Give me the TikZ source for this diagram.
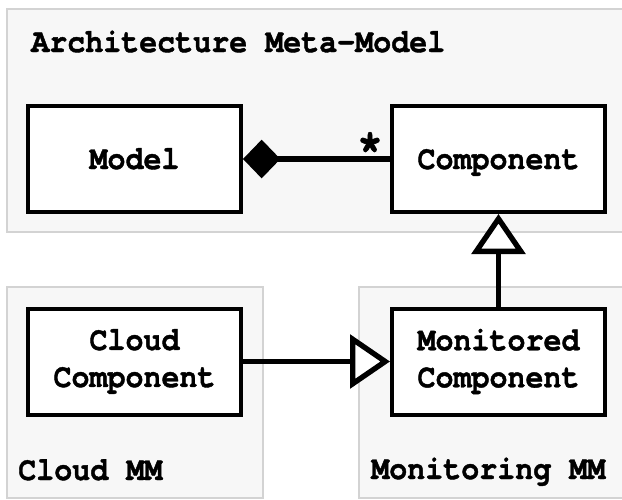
\documentclass[tikz,border=0pt]{standalone}
\usepackage{fontspec}
\setmonofont{texgyrecursor}[Extension=.otf, UprightFont=*-regular, BoldFont=*-bold, FakeStretch=0.9, FakeBold=1.2]
\usetikzlibrary{arrows.meta}
\definecolor{panelfill}{HTML}{F7F7F7}
\definecolor{panelline}{HTML}{D3D3D3}
\newcommand{\umlfont}{\ttfamily\bfseries\fontsize{25pt}{27.75pt}\selectfont}
\newcommand{\multfont}{\ttfamily\bfseries\fontsize{36pt}{36pt}\selectfont}
\begin{document}
\begin{tikzpicture}[x=0.75pt,y=-0.75pt,
  panel/.style={draw=panelline, fill=panelfill, line width=1.5pt},
  cls/.style={draw=black, fill=white, line width=3pt, minimum width=159.75pt,
    minimum height=79.5pt, inner sep=0pt, font=\umlfont, align=center},
  oneline/.style={text height=15pt, text depth=0pt},
  lbl/.style={font=\umlfont, inner sep=0pt, anchor=base west},
  conn/.style={line width=4pt},
  gen/.style={conn, -{Triangle[fill=white, length=30pt, width=40pt]}},
]
\useasboundingbox (0,0) rectangle (622,500);
\clip (0,0) rectangle (622,500);
% packages (panels)
\path[panel] (7,9) rectangle (640,232);
\path[panel] (7,287) rectangle (263,498);
\path[panel] (359,287) rectangle (640,498);
% panel titles
\node[lbl] (title) at (31,52) {Architecture Meta-Model};
\node[lbl] (cloudmm) at (18,480) {Cloud MM};
\node[lbl] (monmm) at (371,479) {Monitoring MM};
% classes
\node[cls, oneline] (model) at (134.5,159) {Model};
\node[cls, oneline] (comp) at (498.5,159) {Component};
\node[cls] (cloud) at (134.5,361.5) {Cloud\\Component};
\node[cls] (mon) at (498.5,361.5) {Monitored\\Component};
% connectors
\draw[conn, {Diamond[length=28pt, width=29pt]}-] (model.east) -- (comp.west);
\node[font=\multfont, inner sep=0pt, anchor=base] (mult) at ([shift={(-20,3)}]comp.west) {*};
\draw[gen] (mon.north) -- (comp.south);
\draw[gen] (cloud.east) -- (mon.west);
\end{tikzpicture}
\end{document}
